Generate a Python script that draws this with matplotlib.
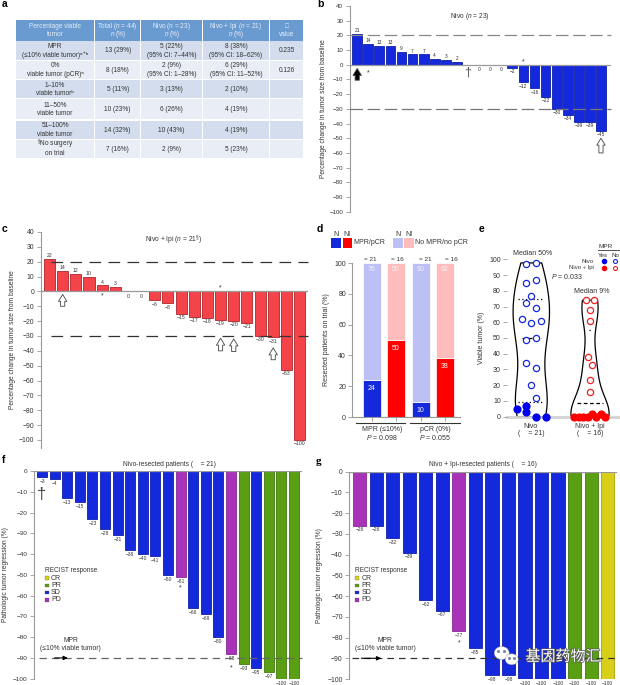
import matplotlib
matplotlib.use('Agg')
from matplotlib import pyplot as plt
from matplotlib.patches import Rectangle, Ellipse
import matplotlib.patheffects as pe

plt.rcParams['font.family'] = ['Liberation Sans', 'DejaVu Sans', 'Noto Sans CJK SC']
plt.rcParams['mathtext.fontset'] = 'custom'
plt.rcParams['mathtext.rm'] = 'Liberation Sans'
plt.rcParams['mathtext.it'] = 'Liberation Sans:italic'
plt.rcParams['mathtext.default'] = 'regular'

W, H = 620, 685

# panel a
table_header = ['Percentage viable\ntumor', 'Total ($\\mathit{n}$ = 44)\nn (%)',
                'Nivo ($\\mathit{n}$ = 23)\nn (%)', 'Nivo + Ipi ($\\mathit{n}$ = 21)\nn (%)',
                '□\nvalue']
table_rows = [
    ['MPR\n(≤10% viable tumor)ᵃ⁺ᵇ', '13 (29%)', '5 (22%)\n(95% CI: 7–44%)', '8 (38%)\n(95% CI: 18–62%)', '0.235'],
    ['0%\nviable tumor (pCR)ᵃ', '8 (18%)', '2 (9%)\n(95% CI: 1–28%)', '6 (29%)\n(95% CI: 11–52%)', '0.126'],
    ['1–10%\nviable tumorᵇ', '5 (11%)', '3 (13%)', '2 (10%)', ''],
    ['11–50%\nviable tumor', '10 (23%)', '6 (26%)', '4 (19%)', ''],
    ['51–100%\nviable tumor', '14 (32%)', '10 (43%)', '4 (19%)', ''],
    ['$^{§}$No surgery\non trial', '7 (16%)', '2 (9%)', '5 (23%)', ''],
]

# panel b
nivo_change = [21, 14, 13, 13, 9, 7, 7, 4, 3, 2, 0, 0, 0, 0, -2, -12, -16, -22, -30, -34, -39, -39, -45]
# panel c
ipi_change = [22, 14, 12, 10, 4, 3, 0, 0, -6, -8, -15, -17, -18, -19, -20, -21, -30, -31, -53, -100]

# panel d
d_mpr = [24, 50, 10, 38]
d_no_mpr = [76, 50, 90, 62]

# panel e
e_nivo_no = [97, 97.7, 85, 87, 77, 72, 69, 62, 59.5, 60.5, 49, 50, 34, 31, 20, 12]
e_nivo_no_x = [-0.085, 0.08, -0.085, 0.08, 0, -0.085, 0.08, -0.165, 0, 0.165, -0.085, 0.08, -0.085, 0.08, 0, 0.08]
e_nivo_yes = [7, 5, 3, 0, 0]
e_nivo_yes_x = [-0.085, -0.25, -0.085, 0.08, 0.245]
e_ipi_no = [74, 74, 68, 61, 38, 33, 23.5, 15.5]
e_ipi_no_x = [-0.075, 0.075, 0, 0, -0.04, 0.035, 0, 0]
e_ipi_yes = [0, 0, 0, 0, 2, 0, 1.5, 0]
e_ipi_yes_x = [-0.27, -0.19, -0.115, -0.04, 0.035, 0.11, 0.19, 0.26]

# panel f
f_regression = [-3, -4, -13, -15, -23, -28, -31, -38, -40, -41, -50, -51, -66, -69, -80, -88, -93, -95, -97, -100, -100]
f_recist = ['SD'] * 11 + ['PD', 'SD', 'SD', 'SD', 'PD', 'PR', 'SD', 'PR', 'PR', 'PR']
# panel g
g_regression = [-26, -26, -32, -39, -62, -67, -77, -85, -98, -98, -100, -100, -100, -100, -100, -100]
g_recist = ['PD', 'SD', 'SD', 'SD', 'SD', 'SD', 'PD', 'SD', 'SD', 'SD', 'SD', 'SD', 'SD', 'PR', 'PR', 'CR']

BLUE = '#1428dc'
RED = '#f4444a'
face = {'CR': '#d8d018', 'PR': '#5a9e14', 'SD': BLUE, 'PD': '#a832b8'}
edge = {'CR': '#a8a010', 'PR': '#3f7a10', 'SD': '#1020a8', 'PD': '#8a2898', 'R': '#b02428'}
GRAY = '#999999'
TXT = '#333333'

fig = plt.figure(figsize=(W / 100, H / 100), dpi=100)


def px_axes(left, top, right, bottom):
    return fig.add_axes([left / W, 1 - bottom / H, (right - left) / W, (bottom - top) / H], facecolor='none')


def value_label(ax, x, v, size):
    s = str(v).replace('-', '−')
    if v > 0:
        ax.text(x, v + 0.6, s, ha='center', va='bottom', fontsize=size, color=TXT)
    elif v == 0:
        ax.text(x, -3.5, s, ha='center', va='center', fontsize=size, color=TXT)
    else:
        ax.text(x, v - 0.9, s, ha='center', va='top', fontsize=size, color=TXT)


def bar_panel(rect, x0, step, ylim, values, colors, edges, width, tick_size, label_size, skip_labels=()):
    ax = px_axes(*rect)
    xs = list(range(len(values)))
    ax.bar(xs, values, width=width, color=colors, edgecolor=edges, linewidth=0.6, zorder=2)
    ax.set_xlim((rect[0] - x0) / step, (rect[2] - x0) / step)
    ax.set_ylim(*ylim)
    for side in ['top', 'right', 'bottom']:
        ax.spines[side].set_visible(False)
    ax.spines['left'].set_color(GRAY)
    ax.spines['left'].set_linewidth(0.8)
    ax.set_xticks([])
    ax.tick_params(axis='y', length=3, width=0.6, color=GRAY, labelsize=tick_size, labelcolor=TXT, pad=1.5)
    ax.axhline(0, color=GRAY, lw=0.9, zorder=3)
    for x, v in zip(xs, values):
        if x not in skip_labels:
            value_label(ax, x, v, label_size)
    return ax


def dash_line(ax, y, color, dashes, x0=0.0, x1=1.0):
    ax.plot([x0, x1], [y, y], transform=ax.get_yaxis_transform(), color=color, lw=0.9,
            dashes=dashes, zorder=4, clip_on=False)


def arrow(ax, x, y_tail, y_head, fc):
    ax.annotate('', xy=(x, y_head), xytext=(x, y_tail), annotation_clip=False, zorder=5,
                arrowprops=dict(arrowstyle='simple,head_length=0.5,head_width=0.6,tail_width=0.3',
                                fc=fc, ec='#444444', lw=0.6, shrinkA=0, shrinkB=0))


def mpr_arrow(ax, x0, x1):
    ax.annotate('', xy=(x1, -90), xytext=(x0, -90), annotation_clip=False, zorder=6,
                arrowprops=dict(arrowstyle='-|>,head_length=0.25,head_width=0.12', color='black', lw=0.8,
                                shrinkA=0, shrinkB=0))


# b
ax_b = bar_panel((349.5, 6, 611, 211.7), 357.2, 11.08, (-100, 40), nivo_change, BLUE, edge['SD'], 0.88, 4.4, 3.5,
                 skip_labels=(10,))
ax_b.set_yticks(range(-100, 41, 10))
dash_line(ax_b, 20, '#888888', (10, 3.7))
dash_line(ax_b, -30, '#777777', (10, 3.7))
arrow(ax_b, 0, -10.5, -2.5, 'black')
arrow(ax_b, 22, -60, -50, 'white')
ax_b.text(10, -5.5, '†', ha='center', va='center', fontsize=9, color='#555555')
ax_b.text(1, -5.3, '*', ha='center', va='center', fontsize=5, color=TXT)
ax_b.text(15, 2, '*', ha='center', va='center', fontsize=5, color=TXT)
ax_b.set_ylabel('Percentage change in tumor size from baseline', fontsize=4.8, color=TXT, labelpad=2)

# c
ax_c = bar_panel((40.7, 232, 308, 447.7), 49.5, 13.16, (-105.2, 40), ipi_change, RED, edge['R'], 0.84, 4.9, 3.7)
ax_c.set_yticks(range(-100, 41, 10))
dash_line(ax_c, 20, '#333333', (9.3, 5.9), 0.04)
dash_line(ax_c, -30, '#333333', (9.3, 5.9), 0.04)
arrow(ax_c, 1, -10, -2, 'white')
arrow(ax_c, 13, -40, -31.5, 'white')
arrow(ax_c, 14, -40.5, -32, 'white')
arrow(ax_c, 17, -46, -38, 'white')
ax_c.text(4, -3.2, '*', ha='center', va='center', fontsize=5, color=TXT)
ax_c.text(13, 2.5, '*', ha='center', va='center', fontsize=5, color=TXT)
ax_c.set_ylabel('Percentage change in tumor size from baseline', fontsize=4.8, color=TXT, labelpad=2)

# d
ax_d = px_axes(352.3, 263, 460, 417)
d_x = [0, 1, 2.04, 3.04]
d_colors = [BLUE, '#fe0000', BLUE, '#fe0000']
d_light = ['#bcc0f4', '#febcbc', '#bcc0f4', '#febcbc']
ax_d.bar(d_x, d_mpr, width=0.76, color=d_colors, edgecolor='white', linewidth=0.5)
ax_d.bar(d_x, d_no_mpr, bottom=d_mpr, width=0.76, color=d_light, edgecolor='white', linewidth=0.5)
for x, a, b in zip(d_x, d_mpr, d_no_mpr):
    ax_d.text(x, a - 5.5, str(a), ha='center', va='center', fontsize=5, color='white')
    ax_d.text(x, 96, str(b), ha='center', va='center', fontsize=5, color='#f4f4fb')
ax_d.set_xlim(-0.82, 3.68)
ax_d.set_ylim(0, 100)
ax_d.set_xticks(d_x)
ax_d.set_xticklabels([])
ax_d.set_yticks(range(0, 101, 20))
for side in ['top', 'right']:
    ax_d.spines[side].set_visible(False)
ax_d.spines['left'].set_color(GRAY)
ax_d.spines['bottom'].set_color(GRAY)
ax_d.tick_params(length=3, width=0.6, color=GRAY, labelsize=5, labelcolor=TXT, pad=1.5)
ax_d.set_ylabel('Resected patients on trial (%)', fontsize=5, color=TXT, labelpad=3)

# e
ax_e = px_axes(507, 259.3, 620, 416.7)
ax_e.set_xlim(-0.414, 1.511)
ax_e.set_ylim(0, 100)
for pos, vals, w, bw in [(0, e_nivo_no + e_nivo_yes, 0.62, 0.48), (1, e_ipi_no + e_ipi_yes, 0.65, 0.4)]:
    parts = ax_e.violinplot(vals, positions=[pos], widths=w, showextrema=False, bw_method=bw)
    for body in parts['bodies']:
        body.set_facecolor('none')
        body.set_edgecolor('black')
        body.set_linewidth(0.9)
        body.set_alpha(1)
        body.set_clip_on(False)
ax_e.hlines([75, 9.5], -0.22, 0.22, color='black', lw=0.9, linestyles=(0, (1, 2)))
ax_e.hlines(50, -0.16, 0.16, color='black', lw=0.9, linestyles=(0, (3, 2)))
ax_e.hlines(9, 0.78, 1.22, color='black', lw=0.9, linestyles=(0, (3, 2)))
ax_e.hlines(55, 0.98, 1.02, color='black', lw=0.9, linestyles=(0, (1, 2)))
ax_e.axhline(0, color='#d4d4d4', lw=2, zorder=1, clip_on=False)
ax_e.scatter(e_nivo_no_x, e_nivo_no, s=20, facecolor='white', edgecolor=BLUE, linewidth=0.9, zorder=3, clip_on=False)
ax_e.scatter(e_nivo_yes_x, e_nivo_yes, s=24, color='#0000f0', zorder=3, clip_on=False)
ax_e.scatter([1 + x for x in e_ipi_no_x], e_ipi_no, s=20, facecolor='white', edgecolor='#f02020', linewidth=0.9, zorder=3, clip_on=False)
ax_e.scatter([1 + x for x in e_ipi_yes_x], e_ipi_yes, s=24, color='#fe0000', zorder=3, clip_on=False)
ax_e.set_xticks([])
ax_e.set_yticks(range(0, 101, 10))
for side in ['top', 'right', 'bottom', 'left']:
    ax_e.spines[side].set_visible(False)
ax_e.tick_params(axis='y', length=3, width=0.6, color=GRAY, labelsize=5, labelcolor=TXT, pad=1.5)
ax_e.set_ylabel('Viable tumor (%)', fontsize=5, color=TXT, labelpad=3)

# f
ax_f = bar_panel((34, 471, 301.7, 678.7), 42, 12.6, (-100, 0), f_regression, [face[r] for r in f_recist],
                 [edge[r] for r in f_recist], 0.8, 4.6, 3.5)
ax_f.set_yticks(range(-100, 1, 10))
dash_line(ax_f, -90, '#666666', (5.9, 4), 0.02)
mpr_arrow(ax_f, 1.0, 2.05)
ax_f.text(0, -11.5, '†', ha='center', va='center', fontsize=12, color='#444444')
ax_f.text(11, -56.5, '*', ha='center', va='center', fontsize=5, color=TXT)
ax_f.text(15, -95, '*', ha='center', va='center', fontsize=5, color=TXT)
ax_f.set_ylabel('Pathologic tumor regression (%)', fontsize=4.8, color=TXT, labelpad=3)

# g
ax_g = bar_panel((349, 471.7, 616.7, 679), 359.7, 16.53, (-100, 0), g_regression, [face[r] for r in g_recist],
                 [edge[r] for r in g_recist], 0.8, 4.9, 3.5)
ax_g.set_yticks(range(-100, 1, 10))
dash_line(ax_g, -90, '#333333', (5.3, 4), 0.01)
mpr_arrow(ax_g, 0.1, 1.3)
ax_g.text(6, -82.5, '*', ha='center', va='center', fontsize=5, color=TXT)
ax_g.set_ylabel('Pathologic tumor regression (%)', fontsize=4.8, color=TXT, labelpad=3)

# everything placed freely goes on one pixel-space layer
ov = fig.add_axes([0, 0, 1, 1], facecolor='none')
ov.set_xlim(0, W)
ov.set_ylim(H, 0)
ov.axis('off')


def t(x, y, s, size=5, ha='center', va='center', color=TXT, **kw):
    return ov.text(x, y, s, fontsize=size, ha=ha, va=va, color=color, **kw)


def cell_text(cx, cy, s, color=TXT, gap=8.4):
    # one text per line so the superscripts do not push the lines apart
    lines = s.split('\n')
    for i, line in enumerate(lines):
        y = cy + 1.8 + (i - (len(lines) - 1) / 2) * gap
        if line == 'n (%)':
            t(cx - 3, y, 'n', 4.7, ha='right', va='baseline', color=color, style='italic')
            t(cx - 2, y, '(%)', 4.7, ha='left', va='baseline', color=color)
        else:
            t(cx, y, line, 4.7, va='baseline', color=color)


# table a
col_edges = [(16, 94.3), (95, 140.3), (141, 202), (202.7, 269.3), (270.3, 303)]
row_edges = [(41.3, 59.7), (60.7, 79), (80, 98), (99, 119.3), (120.6, 139), (140, 158)]
for (x0, x1), s in zip(col_edges, table_header):
    ov.add_patch(Rectangle((x0, 20), x1 - x0, 20.7, color='#6a9bd0', lw=0))
    cell_text((x0 + x1) / 2, 30.5, s, color='#e4ecf7', gap=8.2)
for i, ((y0, y1), row) in enumerate(zip(row_edges, table_rows)):
    for (x0, x1), s in zip(col_edges, row):
        ov.add_patch(Rectangle((x0, y0), x1 - x0, y1 - y0, color='#d3dded' if i % 2 == 0 else '#e9edf5', lw=0))
        if s:
            cell_text((x0 + x1) / 2, (y0 + y1) / 2, s)

# panel letters
for (x, y, s) in [(2, 4, 'a'), (317, 4, 'b'), (2, 229, 'c'), (317, 229, 'd'), (479, 229, 'e'), (2, 460, 'f')]:
    t(x, y, s, 7.5, ha='left', color='black', fontweight='bold')
t(316, 461, 'g', 8, ha='left', color='black', fontweight='bold', family='Liberation Serif')

# titles
t(470, 16.7, 'Nivo ($\\mathit{n}$ = 23)', 4.8)
t(173.3, 240.7, 'Nivo + Ipi ($\\mathit{n}$ = 21$^{§}$)', 4.8)
t(169, 464.7, 'Nivo-resected patients (    = 21)', 4.8)
t(483, 464.7, 'Nivo + Ipi-resected patients (    = 16)', 4.8)

# d legend and labels
for x0, x1, c in [(331.3, 341, BLUE), (342.7, 352, '#fe0000'), (393, 402.7, '#bcc0f4'), (404, 413.7, '#febcbc')]:
    ov.add_patch(Rectangle((x0, 238.3), x1 - x0, 9.4, color=c, lw=0))
for x, s in [(336, 'N'), (347.3, 'NI'), (397.7, 'N'), (408.7, 'NI')]:
    t(x, 234.3, s, 5)
t(353.7, 242.7, 'MPR/pCR', 5, ha='left')
t(415.3, 242.7, 'No MPR/no pCR', 5, ha='left')
for x, s in [(370.7, '= 21'), (397, '= 16'), (425.7, '= 21'), (451, '= 16')]:
    t(x, 259.7, s, 4.6)
ov.plot([356.3, 405], [422.7, 422.7], color='#333333', lw=0.8)
ov.plot([410, 460], [422.7, 422.7], color='#333333', lw=0.8)
t(381.7, 429.3, 'MPR (≤10%)', 5)
t(381.7, 437.7, '$\\mathit{P}$ = 0.098', 5)
t(435.3, 429.3, 'pCR (0%)', 5)
t(435.3, 437.7, '$\\mathit{P}$ = 0.055', 5)

# e legend and labels
t(533, 253.7, 'Median 50%', 5)
t(591.3, 291.3, 'Median 9%', 5)
t(566.7, 276.7, '$\\mathit{P}$ = 0.033', 5)
t(531, 426.7, 'Nivo', 5)
t(531, 433.7, '(    = 21)', 5)
t(590, 426.7, 'Nivo + Ipi', 5)
t(590, 433.7, '(    = 16)', 5)
t(606, 246.7, 'MPR', 4.6)
ov.plot([598, 620], [250, 250], color='#333333', lw=0.6)
t(602.7, 255, 'Yes', 4.4)
t(615, 255, 'No', 4.4)
t(594, 261, 'Nivo', 4.3, ha='right')
t(594, 267.7, 'Nivo + Ipi', 4.3, ha='right')
ov.scatter([604], [261], s=9, color='#0000f0')
ov.scatter([615.3], [261], s=8, facecolor='white', edgecolor=BLUE, linewidth=0.8)
ov.scatter([604], [267.7], s=9, color='#fe0000')
ov.scatter([615.3], [267.7], s=8, facecolor='white', edgecolor='#f02020', linewidth=0.8)

# f and g legends
legend_rows = [(578, 'CR'), (585.3, 'PR'), (592.3, 'SD'), (599.7, 'PD')]
for x_box, x_text in [(45, 51), (355, 361.7)]:
    t(x_box, 570.7, 'RECIST response', 4.7, ha='left')
    for y, name in legend_rows:
        ov.add_patch(Rectangle((x_box, y - 1.8), 3.7, 3.7, facecolor=face[name], edgecolor='#555555', lw=0.2))
        t(x_text, y, name, 5, ha='left')
t(70.7, 640.7, 'MPR', 4.9)
t(70.7, 649, '(≤10% viable tumor)', 4.9)
t(385, 640.7, 'MPR', 4.9)
t(385, 649, '(≤10% viable tumor)', 4.9)

# watermark
shadow = [pe.withStroke(linewidth=1, foreground='#555555')]
t(563, 657, '基因药物汇', 10.8, color='white', path_effects=shadow, zorder=10)
for cx, cy, w, h in [(501.7, 653, 15, 13), (511.7, 659.3, 13, 11)]:
    ov.add_patch(Ellipse((cx, cy), w, h, facecolor='white', edgecolor='#888888', lw=0.3, zorder=10))
ov.scatter([498, 504, 509, 514], [651, 651, 658, 658], s=1.5, color='#7a8aa0', zorder=11)

fig.savefig('out.png', dpi=100)
